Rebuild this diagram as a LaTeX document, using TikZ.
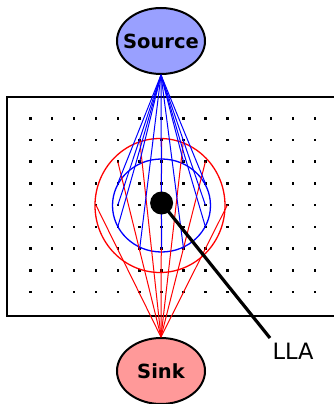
\documentclass[tikz,border=0pt]{standalone}
\usepackage{fontspec}
\setmainfont{DejaVu Sans}
\usetikzlibrary{shapes.geometric,calc}
\definecolor{srcfill}{RGB}{153,160,255}
\definecolor{snkfill}{RGB}{255,153,153}
\tikzset{
  terminal/.style={ellipse, draw=black, line width=2pt, minimum width=88pt, minimum height=66pt, inner sep=0pt},
  termtext/.style={font=\fontsize{19.5}{22}\selectfont\bfseries, inner sep=0pt},
  blueline/.style={draw=blue, line width=1pt},
  redline/.style={draw=red, line width=1pt},
  griddot/.style={fill=black},
  frame/.style={draw=black, line width=2.8pt},
  ring/.style={line width=1.3pt}
}
\begin{document}
\begin{tikzpicture}[x=1pt,y=-1pt]
\useasboundingbox (0,0) rectangle (334,404);
\clip (0,0) rectangle (334,404);
% frame
\draw[frame] (7,97) rectangle (345,316);
% grid of pixels
\foreach \i in {0,...,13}{
  \foreach \j in {0,...,8}{
    \coordinate (g-\i-\j) at ({30.2+21.9*\i},{118.3+21.7*\j});
    \fill[griddot] ($(g-\i-\j)+(-1.3,-1.3)$) rectangle ++(2.6,2.6);
  }
}
% terminals
\node[terminal, fill=srcfill] (src) at (161,41) {};
\node[termtext] (srctext) at (src.center) {Source};
\node[terminal, fill=snkfill] (snk) at (161,371) {};
\node[termtext] (snktext) at (snk.center) {Sink};
% neighbourhoods
\draw[ring, red] (160,205.5) ellipse [x radius=65pt, y radius=67pt];
\draw[ring, blue] (161.5,205.5) ellipse [x radius=49pt, y radius=46.5pt];
% sink edges
\foreach \i/\j in {3/4,4/2,5/1,6/1,7/1,8/2,9/4}{
  \draw[redline] (snk.north) -- (g-\i-\j);
}
% source edges
\foreach \i/\j in {4/3,4/4,4/5,5/2,5/6,6/6,7/2,7/6,8/3,8/4,8/5}{
  \draw[blueline] (src.south) -- (g-\i-\j);
}
% LLA marker
\node[circle, fill=black, minimum size=23pt, inner sep=0pt] (dot) at (161.6,203) {};
\coordinate (tip) at (270,338);
\draw[line width=3.2pt] (dot.center) -- (tip);
\node[font=\fontsize{22.5}{24}\selectfont, inner sep=0pt] (lla) at (293,351) {LLA};
\end{tikzpicture}
\end{document}
